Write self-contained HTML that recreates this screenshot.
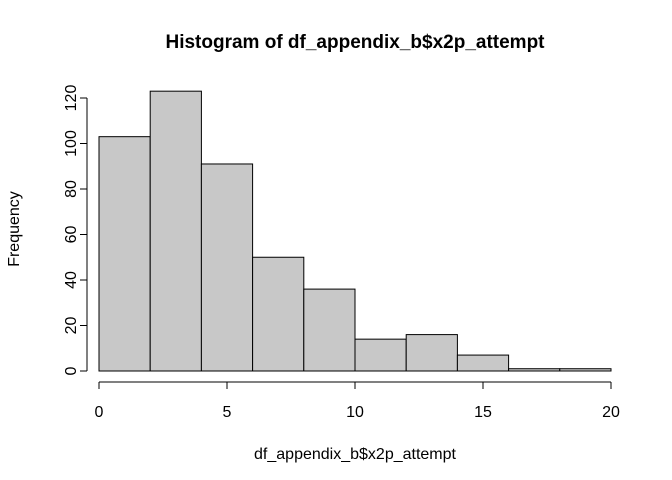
<!DOCTYPE html>
<html><head><meta charset="utf-8"><style>
body{margin:0;background:#fff}
svg{display:block;font-family:"Liberation Sans",Arial,sans-serif}
</style></head><body>
<svg id="chart" width="672" height="480" viewBox="0 0 672 480">
<rect width="672" height="480" fill="#fff"/>
<text x="355" y="48" text-anchor="middle" font-size="19" font-weight="bold">Histogram of df_appendix_b$x2p_attempt</text>
<text x="355" y="459" text-anchor="middle" font-size="16">df_appendix_b$x2p_attempt</text>
<text x="0" y="0" transform="translate(19,229) rotate(-90)" text-anchor="middle" font-size="16">Frequency</text>
<g id="bars"></g>
<g id="xaxis"></g>
<g id="yaxis"></g>
</svg>
<script>
const binEdges=[0,2,4,6,8,10,12,14,16,18,20];
const counts=[103,123,91,50,36,14,16,7,1,1];
const xTicks=[0,5,10,15,20];
const yTicks=[0,20,40,60,80,100,120];
const NS="http://www.w3.org/2000/svg";
const xs=v=>99+v*(611-99)/20;
const ys=v=>371-v*(371-98)/120;
function mk(t,a,p){const e=document.createElementNS(NS,t);for(const k in a)e.setAttribute(k,a[k]);p.appendChild(e);return e;}
const bars=document.getElementById('bars');
counts.forEach((c,i)=>{
 const r=mk('rect',{x:xs(binEdges[i]),y:ys(c),width:xs(binEdges[i+1])-xs(binEdges[i]),height:ys(0)-ys(c),fill:'#c8c8c8',stroke:'#000','stroke-width':1},bars);
 
 
});
const xa=document.getElementById('xaxis');
mk('line',{x1:xs(xTicks[0]),x2:xs(xTicks[xTicks.length-1]),y1:382,y2:382,stroke:'#000'},xa);
xTicks.forEach(t=>{
 mk('line',{x1:xs(t),x2:xs(t),y1:382,y2:389,stroke:'#000'},xa);
 const l=mk('text',{x:xs(t),y:417,'text-anchor':'middle','font-size':16},xa);
 l.textContent=t;
 
 
});
const ya=document.getElementById('yaxis');
mk('line',{x1:87,x2:87,y1:ys(yTicks[0]),y2:ys(yTicks[yTicks.length-1]),stroke:'#000'},ya);
yTicks.forEach(t=>{
 mk('line',{x1:80,x2:87,y1:ys(t),y2:ys(t),stroke:'#000'},ya);
 const l=mk('text',{x:0,y:0,transform:`translate(76,${ys(t)}) rotate(-90)`,'text-anchor':'middle','font-size':16},ya);
 l.textContent=t;
 
 
});
</script>
</body></html>
